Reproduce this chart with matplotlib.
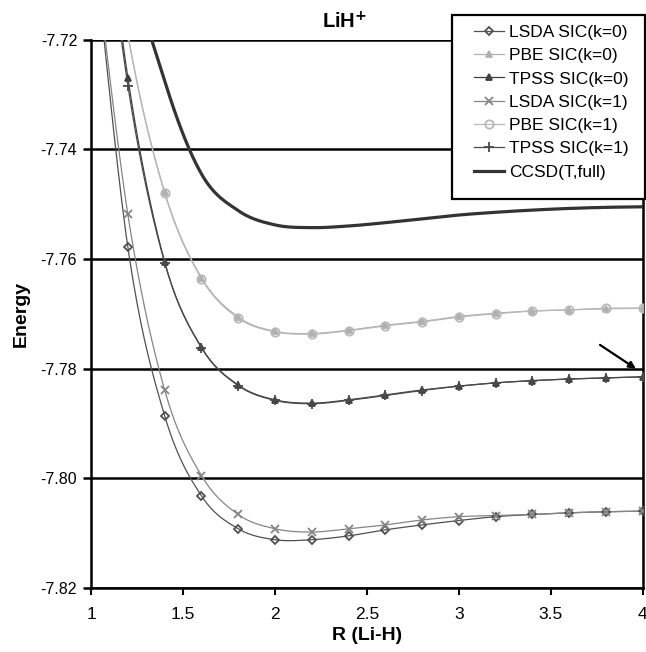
import matplotlib
matplotlib.use("Agg")
import matplotlib.pyplot as plt
from matplotlib.patches import Rectangle
import numpy as np

plt.rcParams['font.family'] = ['Liberation Sans', 'DejaVu Sans']

# bond length R (Li-H), first point lies above the plotted range
r = [1.0, 1.2, 1.4, 1.6, 1.8, 2.0, 2.2, 2.4, 2.6, 2.8, 3.0, 3.2, 3.4, 3.6, 3.8, 4.0]

lsda_k0 = [-7.697, -7.7579, -7.7886, -7.8032, -7.8092, -7.8112, -7.8112, -7.8105, -7.8094,
           -7.8085, -7.8077, -7.8070, -7.8066, -7.8063, -7.8061, -7.8060]
pbe_k0 = [-7.672, -7.7190, -7.7478, -7.7634, -7.7706, -7.7732, -7.7736, -7.7730, -7.7721,
          -7.7714, -7.7705, -7.7699, -7.7695, -7.7693, -7.7691, -7.7690]
tpss_k0 = [-7.672, -7.7270, -7.7605, -7.7761, -7.7830, -7.7857, -7.7863, -7.7857, -7.7848,
           -7.7839, -7.7832, -7.7826, -7.7822, -7.7819, -7.7817, -7.7815]
lsda_k1 = [-7.698, -7.7519, -7.7839, -7.7995, -7.8066, -7.8092, -7.8098, -7.8092, -7.8085,
           -7.8076, -7.8070, -7.8068, -7.8066, -7.8063, -7.8061, -7.8060]
pbe_k1 = [-7.673, -7.7192, -7.7480, -7.7636, -7.7708, -7.7733, -7.7737, -7.7731, -7.7722,
          -7.7715, -7.7706, -7.7700, -7.7695, -7.7693, -7.7690, -7.7690]
tpss_k1 = [-7.674, -7.7284, -7.7607, -7.7762, -7.7831, -7.7858, -7.7864, -7.7858, -7.7849,
           -7.7840, -7.7832, -7.7826, -7.7822, -7.7819, -7.7817, -7.7815]
ccsd = [-7.645, -7.7010, -7.7275, -7.7445, -7.7512, -7.7538, -7.7543, -7.7540, -7.7534,
        -7.7527, -7.7520, -7.7515, -7.7511, -7.7508, -7.7506, -7.7505]

labels = ['LSDA SIC(k=0)', 'PBE SIC(k=0)', 'TPSS SIC(k=0)', 'LSDA SIC(k=1)',
          'PBE SIC(k=1)', 'TPSS SIC(k=1)', 'CCSD(T,full)']


def smooth(x, y, n=20):
    # catmull-rom curve through the points, like a spreadsheet "smoothed line"
    x = np.asarray(x, float)
    y = np.asarray(y, float)
    px = np.concatenate([[x[0]], x, [x[-1]]])
    py = np.concatenate([[y[0]], y, [y[-1]]])
    xs, ys = [], []
    t = np.linspace(0, 1, n, endpoint=False)
    for i in range(1, len(px) - 2):
        for p, out in ((px, xs), (py, ys)):
            p0, p1, p2, p3 = p[i - 1], p[i], p[i + 1], p[i + 2]
            out.extend(0.5 * (2 * p1 + (-p0 + p2) * t
                              + (2 * p0 - 5 * p1 + 4 * p2 - p3) * t ** 2
                              + (-p0 + 3 * p1 - 3 * p2 + p3) * t ** 3))
    xs.append(x[-1])
    ys.append(y[-1])
    return xs, ys


fig = plt.figure(figsize=(6.46, 6.52), dpi=100)
ax = fig.add_axes([0.141, 0.0982, 0.854, 0.8412])

styles = [
    (lsda_k0, '#505050', 'D', 'none', 4.0),
    (pbe_k0, '#b0b0b0', '^', '#b0b0b0', 4.0),
    (tpss_k0, '#404040', '^', '#404040', 5.0),
    (lsda_k1, '#858585', 'x', 'none', 6.0),
    (pbe_k1, '#b8b8b8', 'o', 'none', 6.0),
    (tpss_k1, '#4a4a4a', '+', 'none', 7.0),
]

handles = []
for (ys, col, mk, fc, ms), lab in zip(styles, labels):
    sx, sy = smooth(r, ys)
    ax.plot(sx, sy, color=col, lw=0.9, zorder=3)
    ax.plot(r, ys, ls='none', marker=mk, color=col, mfc=fc, mec=col, ms=ms, mew=1.3, zorder=4)
    h, = ax.plot([], [], color=col, lw=0.9, marker=mk, mfc=fc, mec=col, ms=ms, mew=1.3)
    handles.append(h)

sx, sy = smooth(r, ccsd)
ax.plot(sx, sy, color='#333333', lw=2.3, zorder=3)
h, = ax.plot([], [], color='#333333', lw=2.3)
handles.append(h)

ax.set_xlim(1, 4)
ax.set_ylim(-7.82, -7.72)
ax.set_xticks([1, 1.5, 2, 2.5, 3, 3.5, 4])
ax.set_xticklabels(['1', '1.5', '2', '2.5', '3', '3.5', '4'])
ax.set_yticks([-7.82, -7.80, -7.78, -7.76, -7.74, -7.72])
ax.set_yticklabels(['-7.82', '-7.80', '-7.78', '-7.76', '-7.74', '-7.72'])

ax.yaxis.grid(True, color='black', lw=1.8, zorder=1)
ax.spines['top'].set_visible(False)
for s in ('left', 'bottom', 'right'):
    ax.spines[s].set_linewidth(1.8)
ax.tick_params(axis='y', direction='out', length=6, width=1.8, labelsize=11.5, pad=4)
ax.tick_params(axis='x', direction='out', length=5, width=1.5, labelsize=12.5, pad=9)
ax.set_axisbelow(True)

ax.set_xlabel('R (Li-H)', fontsize=14, fontweight='bold', labelpad=3)
ax.set_ylabel('Energy', fontsize=14, fontweight='bold', labelpad=8)
fig.text(0.534, 0.966, r'LiH$^{\mathbf{+}}$', fontsize=14.5, fontweight='bold', ha='center', va='center')

ax.annotate('', xy=(3.975, -7.7803), xytext=(3.755, -7.7754),
            arrowprops=dict(arrowstyle='-|>', color='black', lw=1.6, mutation_scale=10))

# legend box sits over the top right corner, partly above the axes
box = Rectangle((0.6997, 0.6948), 0.298, 0.2822, transform=fig.transFigure,
                facecolor='white', edgecolor='black', lw=1.6, zorder=4)
fig.add_artist(box)
leg = fig.legend(handles, labels, loc='upper left', bbox_to_anchor=(0.733, 0.962),
                 fontsize=12.5, frameon=False, borderpad=0, labelspacing=0.47,
                 handlelength=1.75, handletextpad=0.3, borderaxespad=0)
leg.set_zorder(5)

fig.savefig('out.png', dpi=100)
